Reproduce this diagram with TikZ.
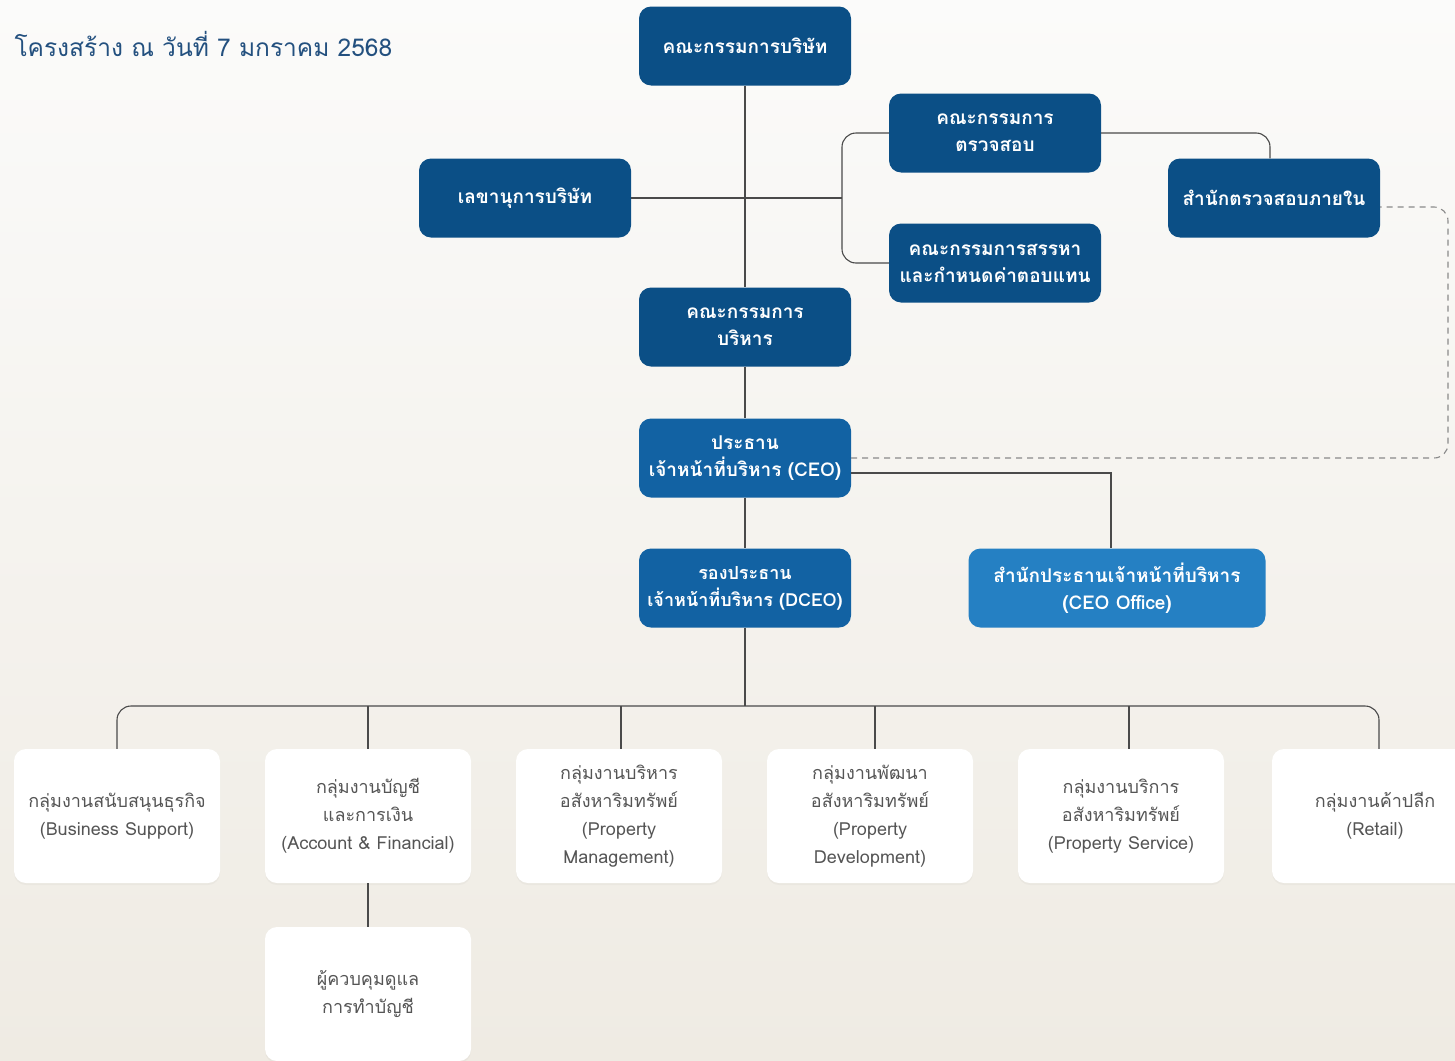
\documentclass[tikz,border=0pt]{standalone}
\usepackage{fontspec}
\setmainfont[Script=Thai]{Loma}
\usetikzlibrary{shadows}
\definecolor{navy}{HTML}{0B4F86}
\definecolor{midblue}{HTML}{1262A3}
\definecolor{lightblue}{HTML}{2580C3}
\definecolor{titleblue}{HTML}{23507F}
\definecolor{linegray}{HTML}{4A4A4A}
\definecolor{dashgray}{HTML}{8A8A8A}
\definecolor{txtgray}{HTML}{555555}
\definecolor{bgtop}{HTML}{FBFBFA}
\definecolor{bgbot}{HTML}{EFEBE3}
\begin{document}
\begin{tikzpicture}[x=1pt,y=-1pt,
  bluebox/.style={rounded corners=12pt, fill=navy, text=white,
    font=\bfseries\fontsize{19}{27}\selectfont, minimum width=212pt,
    minimum height=79pt, align=center, inner sep=0pt},
  ceobox/.style={bluebox, fill=midblue},
  officebox/.style={bluebox, fill=lightblue, minimum width=297pt},
  unitbox/.style={rounded corners=12pt, fill=white, text=txtgray,
    font=\fontsize{18}{28}\selectfont, minimum width=206pt,
    minimum height=134pt, align=center, inner sep=0pt,
    drop shadow={opacity=0.06, shadow xshift=0pt, shadow yshift=-2pt}},
  conn/.style={draw=linegray, line width=1.1pt},
  dashline/.style={draw=dashgray, line width=1.1pt, dash pattern=on 6pt off 5pt}
]
\clip (0,0) rectangle (1455,1060);
\shade[top color=bgtop, bottom color=bgbot] (0,0) rectangle (1455,1060);

\node[anchor=west, text=titleblue, font=\fontsize{24.5}{30}\selectfont] (title) at (11,44) {โครงสร้าง ณ วันที่ 7 มกราคม 2568};

% top level
\node[bluebox] (board) at (745,46) {คณะกรรมการบริษัท};
\node[bluebox] (sec) at (525,198) {เลขานุการบริษัท};
\node[bluebox] (audit) at (995,133) {คณะกรรมการ\\ตรวจสอบ};
\node[bluebox] (nom) at (995,263) {คณะกรรมการสรรหา\\และกำหนดค่าตอบแทน};
\node[bluebox] (ia) at (1274,198) {สำนักตรวจสอบภายใน};
\node[bluebox] (exec) at (745,327) {คณะกรรมการ\\บริหาร};
\node[ceobox] (ceo) at (745,458) {ประธาน\\เจ้าหน้าที่บริหาร (CEO)};
\node[ceobox, font=\bfseries\fontsize{18}{27}\selectfont] (dceo) at (745,588) {รองประธาน\\เจ้าหน้าที่บริหาร (DCEO)};
\node[officebox] (ceooff) at (1117,588) {สำนักประธานเจ้าหน้าที่บริหาร\\(CEO Office)};

% units
\node[unitbox] (bs) at (117,816) {กลุ่มงานสนับสนุนธุรกิจ\\(Business Support)};
\node[unitbox] (acc) at (368,816) {กลุ่มงานบัญชี\\และการเงิน\\(Account \& Financial)};
\node[unitbox] (pm) at (619,816) {กลุ่มงานบริหาร\\อสังหาริมทรัพย์\\(Property\\Management)};
\node[unitbox] (pd) at (870,816) {กลุ่มงานพัฒนา\\อสังหาริมทรัพย์\\(Property\\Development)};
\node[unitbox] (ps) at (1121,816) {กลุ่มงานบริการ\\อสังหาริมทรัพย์\\(Property Service)};
\node[unitbox] (rt) at (1375,816) {กลุ่มงานค้าปลีก\\(Retail)};
\node[unitbox] (ctrl) at (368,994) {ผู้ควบคุมดูแล\\การทำบัญชี};

% coordinates
\coordinate (brk) at (842,198);
\coordinate (bus) at (745,706);
\coordinate (dsh1) at (1448,458);
\coordinate (dsh2) at (1448,207);

% connectors
\draw[conn] (board.south) -- (exec.north);
\draw[conn] (sec.east) -- (brk);
\draw[conn, rounded corners=14pt] (audit.west) -| (brk) |- (nom.west);
\draw[conn, rounded corners=14pt] (audit.east) -| ([xshift=-4pt]ia.north);
\draw[conn] (exec.south) -- (ceo.north);
\draw[conn] (ceo.south) -- (dceo.north);
\draw[conn] ([yshift=-15pt]ceo.east) -| ([xshift=-6pt]ceooff.north);
\draw[dashline, rounded corners=14pt] (ceo.east) -- (dsh1) -- (dsh2) -- ([yshift=-9pt]ia.east);
\draw[conn] (dceo.south) -- (bus);
\draw[conn, rounded corners=14pt] (bs.north) |- (bus) -| ([xshift=4pt]rt.north);
\draw[conn] (acc.north) -- (acc.north |- bus);
\draw[conn] ([xshift=2pt]pm.north) -- ([xshift=2pt]pm.north |- bus);
\draw[conn] ([xshift=5pt]pd.north) -- ([xshift=5pt]pd.north |- bus);
\draw[conn] ([xshift=8pt]ps.north) -- ([xshift=8pt]ps.north |- bus);
\draw[conn] (acc.south) -- (ctrl.north);
\end{tikzpicture}
\end{document}
